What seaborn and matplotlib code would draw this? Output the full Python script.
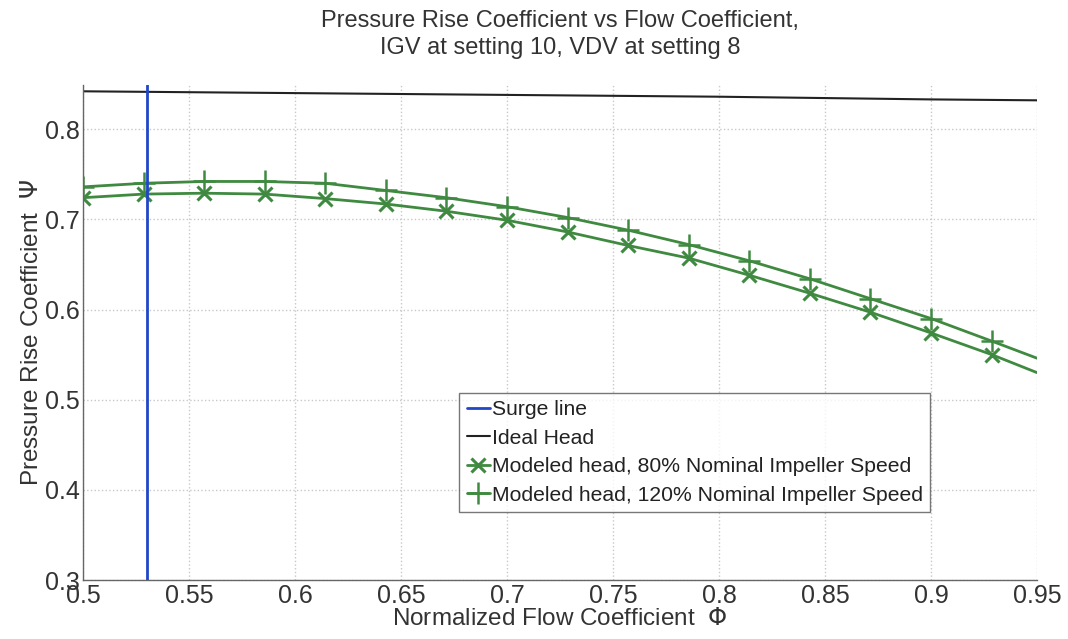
import numpy as np
import pandas as pd
import matplotlib
matplotlib.use("Agg")
import matplotlib.pyplot as plt
import seaborn as sns

# ---- data ----
phi = [0.5, 0.5286, 0.5571, 0.5857, 0.6143, 0.6429, 0.6714, 0.7, 0.7286, 0.7571,
       0.7857, 0.8143, 0.8429, 0.8714, 0.9, 0.9286, 0.95]
psi_80 = [0.724, 0.728, 0.729, 0.728, 0.723, 0.717, 0.709, 0.699, 0.686, 0.671,
          0.657, 0.638, 0.618, 0.597, 0.574, 0.550, 0.530]
psi_120 = [0.736, 0.740, 0.742, 0.742, 0.740, 0.732, 0.724, 0.714, 0.702, 0.688,
           0.672, 0.654, 0.634, 0.612, 0.590, 0.565, 0.546]
ideal_phi = [0.5, 0.6, 0.7, 0.8, 0.9, 0.95]
ideal_psi = [0.842, 0.840, 0.838, 0.836, 0.833, 0.832]
surge_phi = 0.53

x_ticks = [0.5, 0.55, 0.6, 0.65, 0.7, 0.75, 0.8, 0.85, 0.9, 0.95]
x_tick_labels = ["0.5", "0.55", "0.6", "0.65", "0.7", "0.75", "0.8", "0.85", "0.9", "0.95"]
y_ticks = [0.3, 0.4, 0.5, 0.6, 0.7, 0.8]
y_tick_labels = ["0.3", "0.4", "0.5", "0.6", "0.7", "0.8"]

labels = ["Surge line", "Ideal Head",
          "Modeled head, 80% Nominal Impeller Speed",
          "Modeled head, 120% Nominal Impeller Speed"]

sns.set_style("white")
plt.rcParams['font.family'] = ['Liberation Sans', 'DejaVu Sans']

fig = plt.figure(figsize=(10.68, 6.39), dpi=100)
ax = fig.add_axes([0.0777, 0.0923, 0.8933, 0.7747])

green = "#3f8a40"
ax.axvline(surge_phi, color="#2146c8", lw=2.0, label=labels[0], zorder=3)
sns.lineplot(x=ideal_phi, y=ideal_psi, ax=ax, color="#222222", lw=1.5,
             label=labels[1], estimator=None, sort=False)
markidx = list(range(len(phi) - 1))
sns.lineplot(x=phi, y=psi_80, ax=ax, color=green, lw=2.0, marker="x",
             markersize=10, markeredgewidth=2.2, markeredgecolor=green,
             markerfacecolor=green, markevery=markidx,
             label=labels[2], estimator=None, sort=False)
sns.lineplot(x=phi, y=psi_120, ax=ax, color=green, lw=2.0, marker="+",
             markersize=16, markeredgewidth=1.8, markeredgecolor=green,
             markerfacecolor=green, markevery=markidx,
             label=labels[3], estimator=None, sort=False)

ax.set_xlim(0.5, 0.95)
ax.set_ylim(0.3, 0.849)
ax.set_xticks(x_ticks)
ax.set_xticklabels(x_tick_labels)
ax.set_yticks(y_ticks)
ax.set_yticklabels(y_tick_labels)
ax.tick_params(direction="in", length=6, width=1, colors="#333333",
               labelsize=18, pad=2)
ax.tick_params(axis="x", pad=3)

ax.grid(True, linestyle=":", color="#c8c8c8", lw=1.0)
for s in ["top", "right"]:
    ax.spines[s].set_visible(False)
for s in ["left", "bottom"]:
    ax.spines[s].set_color("#666666")
    ax.spines[s].set_linewidth(1.0)

ax.set_xlabel("Normalized Flow Coefficient  $\\Phi$", fontsize=17.5, color="#333333", labelpad=0)
ax.set_ylabel("Pressure Rise Coefficient  $\\Psi$", fontsize=17.5, color="#333333", labelpad=2)
ax.set_title("Pressure Rise Coefficient vs Flow Coefficient,\nIGV at setting 10, VDV at setting 8",
             fontsize=17, color="#333333", pad=22, linespacing=1.3)

leg = ax.legend(loc="upper left", bbox_to_anchor=(0.430, 0.385),
                bbox_transform=fig.transFigure, fontsize=15.2, frameon=True,
                fancybox=False, edgecolor="#555555", handlelength=1.1,
                handletextpad=0.1, labelspacing=0.45, borderpad=0.35,
                borderaxespad=0)
leg.get_frame().set_linewidth(1.0)
for t in leg.get_texts():
    t.set_color("#222222")

fig.savefig("out.png", dpi=100)
